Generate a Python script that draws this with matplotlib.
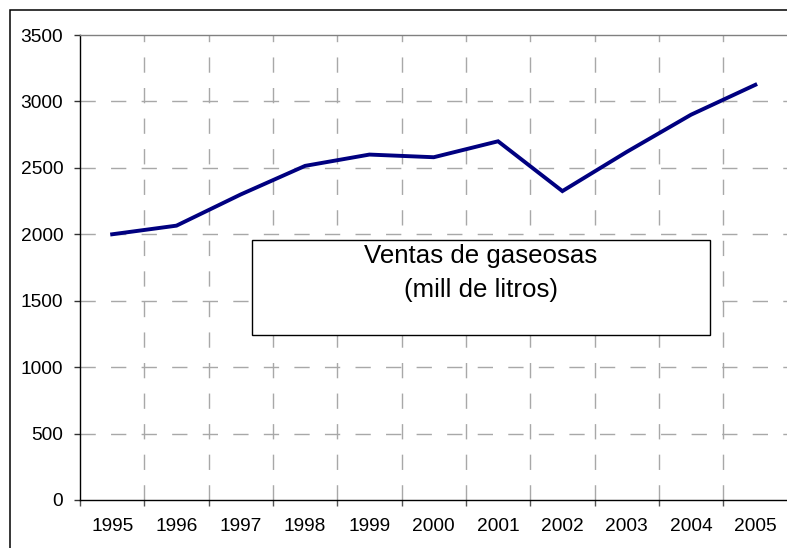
import matplotlib
matplotlib.use("Agg")
import matplotlib.pyplot as plt
from matplotlib.patches import Rectangle

years = ["1995", "1996", "1997", "1998", "1999", "2000",
         "2001", "2002", "2003", "2004", "2005"]
ventas = [2000, 2065, 2300, 2515, 2600, 2580, 2700, 2325, 2620, 2900, 3125]
y_ticks = [0, 500, 1000, 1500, 2000, 2500, 3000, 3500]
box_text = "Ventas de gaseosas\n(mill de litros)"

plt.rcParams["font.family"] = ["Liberation Sans", "DejaVu Sans"]

W, H = 787, 548
fig = plt.figure(figsize=(W / 100, H / 100), dpi=100)
fig.patch.set_facecolor("white")

# outer chart frame (only top and left edges fall inside the canvas)
fig.add_artist(Rectangle((9.5 / W, -0.2), 2.0, 1.2 - 10 / H,
                         transform=fig.transFigure, fill=False,
                         ec="black", lw=1.1))

left, right, top, bottom = 80, 787.5, 35, 500
ax = fig.add_axes([left / W, 1 - bottom / H, (right - left) / W, (bottom - top) / H])

n = len(years)
x = [i + 0.5 for i in range(n)]
ax.set_xlim(0, n)
ax.set_ylim(0, 3500)

grid_kw = dict(color="#a8a8a8", lw=1.0, dashes=(11, 11), zorder=1)
for yv in y_ticks[1:-1]:
    ax.axhline(yv, **grid_kw)
for i in range(1, n):
    ax.axvline(i, **grid_kw)

ax.plot(x, ventas, color="#000080", lw=2.8, solid_joinstyle="miter", zorder=3)

ax.set_yticks(y_ticks)
ax.set_yticklabels([str(v) for v in y_ticks])
ax.set_xticks(range(0, n + 1))
ax.set_xticklabels([])
ax.set_xticks(x, minor=True)
ax.set_xticklabels(years, minor=True)
ax.tick_params(axis="x", which="minor", length=0, pad=13, labelsize=13.8)
ax.tick_params(axis="x", which="major", length=4, width=1, color="#555555", direction="out")
ax.tick_params(axis="y", length=4, width=1, color="#333333", direction="out",
               pad=8, labelsize=13.8)

for s in ("left", "bottom"):
    ax.spines[s].set_color("black")
    ax.spines[s].set_linewidth(1.0)
ax.spines["top"].set_color("#808080")
ax.spines["top"].set_linewidth(1.0)
ax.spines["right"].set_visible(False)

# text box with title
bx0, bx1, by0, by1 = 252, 710, 239.5, 334.5
fig.add_artist(Rectangle((bx0 / W, 1 - by1 / H), (bx1 - bx0) / W, (by1 - by0) / H,
                         transform=fig.transFigure, facecolor="white",
                         ec="black", lw=1.0, zorder=5))
fig.text(481 / W, 1 - 244.5 / H, box_text, ha="center", va="top",
         fontsize=18.6, linespacing=1.5, zorder=6)

fig.savefig("out.png", dpi=100)
